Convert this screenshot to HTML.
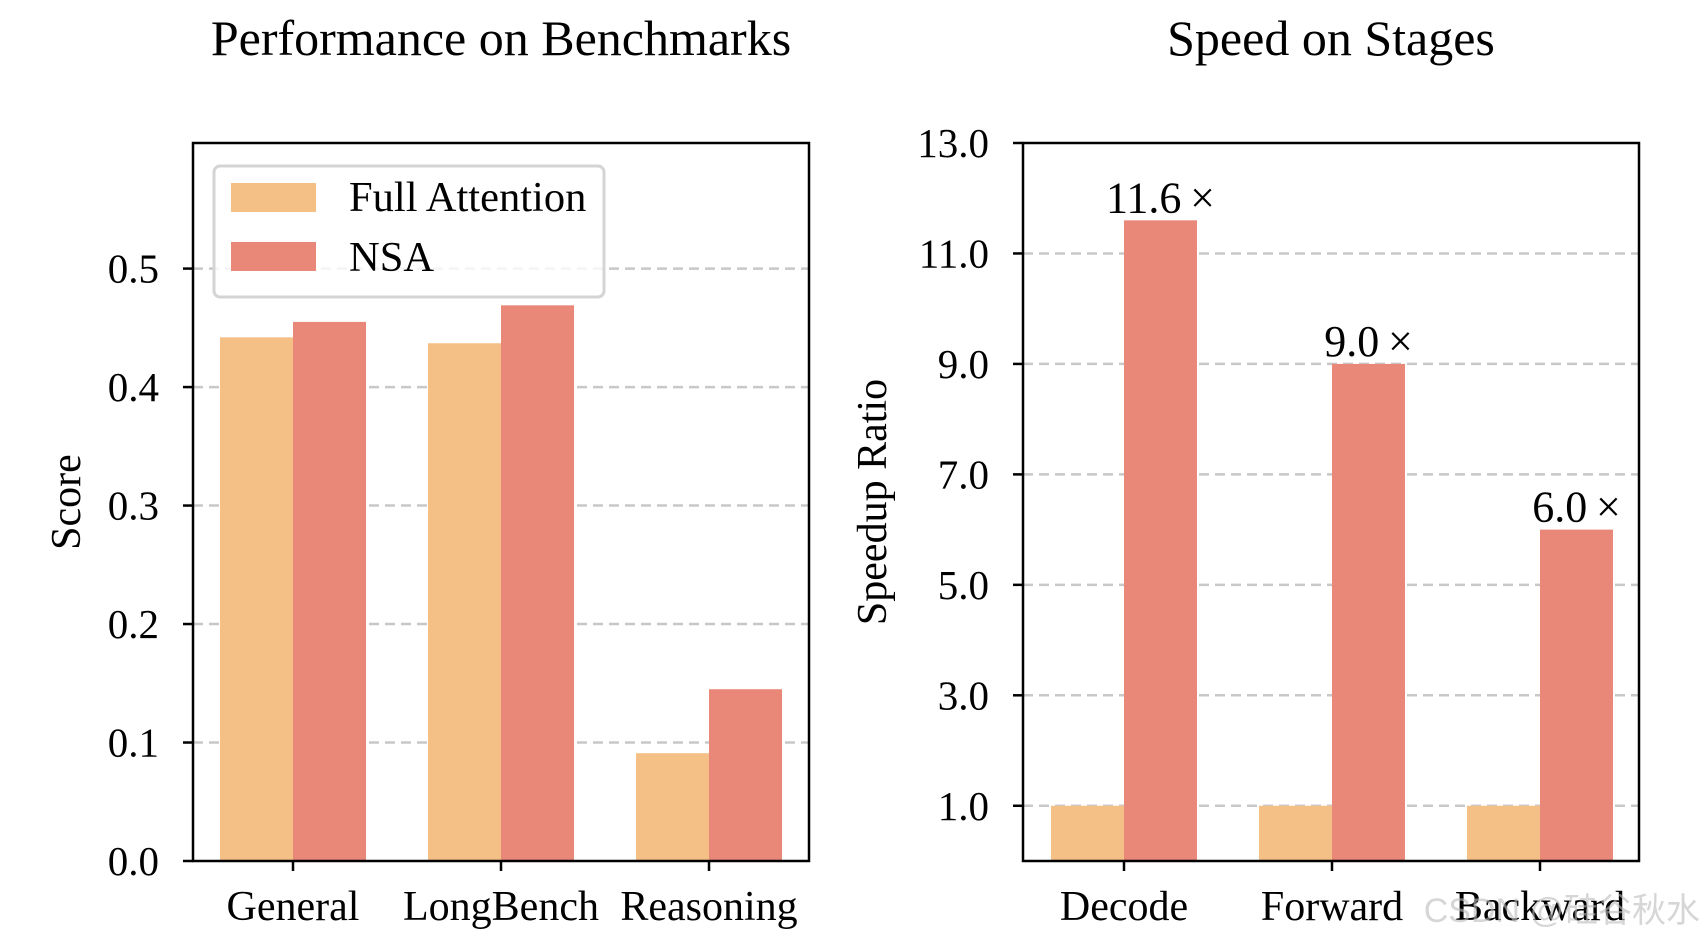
<!DOCTYPE html>
<html><head><meta charset="utf-8"><style>
html,body{margin:0;padding:0;background:#fff;}
svg{display:block;font-family:"Liberation Serif",serif;}
</style></head><body>
<svg id="chart" width="1706" height="940" viewBox="0 0 1706 940" xmlns="http://www.w3.org/2000/svg"></svg>
<script>
const perfCategories = ["General","LongBench","Reasoning"];
const perfFull = [0.442, 0.437, 0.091];
const perfNSA = [0.455, 0.469, 0.145];
const perfTicks = [0.0,0.1,0.2,0.3,0.4,0.5];
const speedCategories = ["Decode","Forward","Backward"];
const speedFull = [1.0, 1.0, 1.0];
const speedNSA = [11.6, 9.0, 6.0];
const speedLabels = ["11.6\u2009\u00d7","9.0\u2009\u00d7","6.0\u2009\u00d7"];
const speedTicks = [1.0,3.0,5.0,7.0,9.0,11.0,13.0];

const NS="http://www.w3.org/2000/svg";
const svg=document.getElementById('chart');
const FA="#F5C086", NC="#E98878";
function mk(tag,attrs,parent){const e=document.createElementNS(NS,tag);for(const k in attrs)e.setAttribute(k,attrs[k]);(parent||svg).appendChild(e);return e;}
function txt(s,attrs,parent){const e=mk('text',attrs,parent);e.textContent=s;return e;}

function panel(cfg){
  const g=mk('g',{});
  
  
  const {x0,x1,y0,y1,ymin,ymax}=cfg;
  const ys=v=>y1-(v-ymin)/(ymax-ymin)*(y1-y0);
  const xc=i=>cfg.firstCenter+i*cfg.spacing;
  const bw=cfg.bw;
  cfg.ticks.forEach(t=>{
    if(t>ymin && t<ymax){
      const l=mk('line',{x1:x0,x2:x1,y1:ys(t),y2:ys(t),stroke:"#c8c8c8","stroke-width":2.5,"stroke-dasharray":"10,6"},g);
      
      
    }
  });
  cfg.cats.forEach((c,i)=>{
    const a=mk('rect',{x:xc(i)-bw,y:ys(cfg.s1[i]),width:bw,height:ys(ymin)-ys(cfg.s1[i]),fill:FA},g);
    
    
    const b=mk('rect',{x:xc(i),y:ys(cfg.s2[i]),width:bw,height:ys(ymin)-ys(cfg.s2[i]),fill:NC},g);
    
    
    if(cfg.labels){
      const t=txt(cfg.labels[i],{x:xc(i)+bw/2,y:ys(cfg.s2[i])-8,"font-size":44,"text-anchor":"middle"},g);
      
      
    }
    const tk=mk('line',{x1:xc(i),x2:xc(i),y1:y1,y2:y1+10,stroke:"#000","stroke-width":2.5},g);
    
    
    const tl=txt(c,{x:xc(i),y:920,"font-size":42,"text-anchor":"middle"},g);
    
    
  });
  cfg.ticks.forEach(t=>{
    const tk=mk('line',{x1:x0-10,x2:x0,y1:ys(t),y2:ys(t),stroke:"#000","stroke-width":2.5},g);
    
    
    const tl=txt(t.toFixed(1),{x:x0-34,y:ys(t)+14,"font-size":41,"text-anchor":"end"},g);
    
    
  });
  const fr=mk('rect',{x:x0,y:y0,width:x1-x0,height:y1-y0,fill:"none",stroke:"#000","stroke-width":2.5},g);
  
  
  const ti=txt(cfg.title,{x:(x0+x1)/2,y:55,"font-size":50,"text-anchor":"middle"},g);
  
  
  const yl=txt(cfg.ylabel,{x:0,y:0,"font-size":42,"text-anchor":"middle",transform:`translate(${cfg.ylx},${(y0+y1)/2}) rotate(-90)`},g);
  
  
  return g;
}

panel({name:'performance-panel',x0:193,x1:809,y0:143,y1:861,ymin:0,ymax:0.606,ticks:perfTicks,
  cats:perfCategories,s1:perfFull,s2:perfNSA,firstCenter:293,spacing:208,bw:73,
  title:"Performance on Benchmarks",ylabel:"Score",ylx:80});
panel({name:'speed-panel',x0:1023,x1:1639,y0:143,y1:861,ymin:0,ymax:13,ticks:speedTicks,
  cats:speedCategories,s1:speedFull,s2:speedNSA,labels:speedLabels,firstCenter:1124,spacing:208,bw:73,
  title:"Speed on Stages",ylabel:"Speedup Ratio",ylx:886});

const lg=mk('g',{});


mk('rect',{x:214,y:166,width:390,height:131,rx:6,fill:"#fff","fill-opacity":0.8,stroke:"#d4d4d4","stroke-width":3},lg);
const p1=mk('rect',{x:231,y:183,width:85,height:29,fill:FA},lg);


const t1=txt("Full Attention",{x:349,y:211,"font-size":42.5},lg);


const p2=mk('rect',{x:231,y:242,width:85,height:29,fill:NC},lg);


const t2=txt("NSA",{x:349,y:271,"font-size":42.5},lg);



const wm=txt("CSDN @硅谷秋水",{x:1700,y:922,"font-size":34,"text-anchor":"end",fill:"#bbb","fill-opacity":0.6,"font-family":"'Liberation Sans','Noto Sans CJK SC',sans-serif"});


</script>
</body></html>
